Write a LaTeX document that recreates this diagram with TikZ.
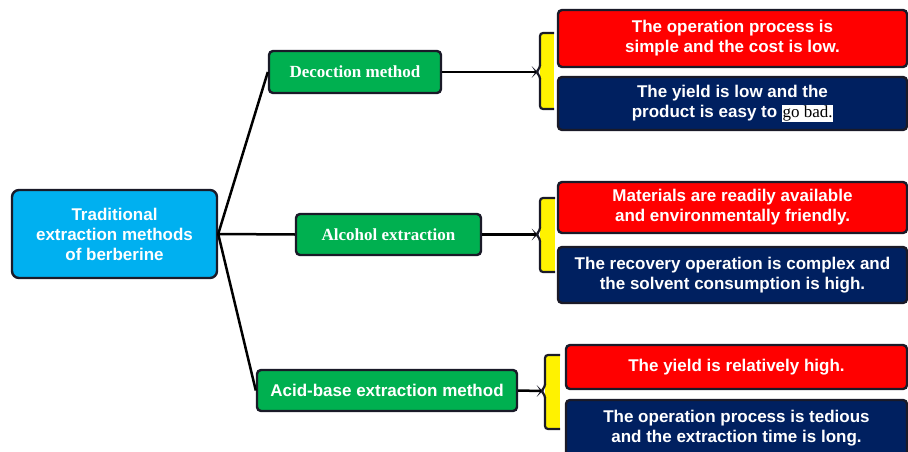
\documentclass[tikz,border=0pt]{standalone}
\usepackage{fontspec}
\setmainfont{Liberation Sans}
\newfontfamily\timesfont{Liberation Serif}
\usetikzlibrary{positioning}
\definecolor{boxred}{HTML}{FF0000}
\definecolor{boxnavy}{HTML}{002060}
\definecolor{boxgreen}{HTML}{00B050}
\definecolor{boxcyan}{HTML}{00B0F0}
\definecolor{edgeblk}{HTML}{1A1A28}
\setlength{\fboxsep}{0.6pt}

\begin{document}
\begin{tikzpicture}[x=1pt, y=-1pt,
box/.style={rectangle, rounded corners=4pt, draw=edgeblk, line width=2.4pt,
      text=white, align=center, inner sep=0pt,
      font=\fontsize{17}{20}\selectfont\bfseries},
root/.style={box, fill=boxcyan, rounded corners=7pt},
method/.style={box, fill=boxgreen},
serifbold/.style={font=\timesfont\fontsize{17}{20}\selectfont\bfseries},
pro/.style={box, fill=boxred},
con/.style={box, fill=boxnavy},
link/.style={line width=2.5pt, draw=black},
brace/.style={line width=2.2pt, draw=edgeblk, rounded corners=3pt}]
 \useasboundingbox (0,0) rectangle (908,452);

 \node[root, minimum width=205pt, minimum height=88pt] (root) at (114.5,234) {Traditional\\extraction methods\\of berberine};
 \node[method, serifbold, minimum width=172pt, minimum height=42pt] (dec) at (355,72) {Decoction method};
 \node[method, serifbold, minimum width=185pt, minimum height=41pt] (alc) at (388.5,234.5) {Alcohol extraction};
 \node[method, minimum width=260pt, minimum height=41pt] (acid) at (387,390.5) {Acid-base extraction method};

 \node[pro, minimum width=349pt, minimum height=57pt] (pro1) at (732.5,38.5) {The operation process is\\simple and the cost is low.};
 \node[con, minimum width=349pt, minimum height=53pt] (con1) at (732.5,103.5) {The yield is low and the\\product is easy to \colorbox{white}{\color{black}\timesfont\mdseries go bad.}};
 \node[pro, minimum width=349pt, minimum height=51pt] (pro2) at (732.5,207.5) {Materials are readily available\\and environmentally friendly.};
 \node[con, minimum width=349pt, minimum height=56pt] (con2) at (732.5,275) {The recovery operation is complex and\\the solvent consumption is high.};
 \node[pro, minimum width=341pt, minimum height=44pt] (pro3) at (736.5,367) {The yield is relatively high.};
 \node[con, minimum width=341pt, minimum height=56pt] (con3) at (736.5,428) {The operation process is tedious\\and the extraction time is long.};

 % yellow braces
 \coordinate (b1) at (536,72);
 \coordinate (b2) at (536,234.5);
 \coordinate (b3) at (541,391);
 \fill[yellow] (540,33) rectangle (554,109);
 \draw[brace] (554,33) -- (540,33) -- (540,68) -- (b1) -- (540,76) -- (540,109) -- (554,109);
 \fill[yellow] (540,198) rectangle (555,272);
 \draw[brace] (555,198) -- (540,198) -- (540,230.5) -- (b2) -- (540,238.5) -- (540,272) -- (555,272);
 \fill[yellow] (545,355) rectangle (560,429);
 \draw[brace] (560,355) -- (545,355) -- (545,387) -- (b3) -- (545,395) -- (545,429) -- (560,429);

 \draw[link] (root.east) -- (dec.west);
 \draw[link] (root.east) -- (alc.west);
 \draw[link] (root.east) -- (acid.west);
 \draw[link] (dec.east) -- (b1);
 \draw[link] (alc.east) -- (b2);
 \draw[link] (acid.east) -- (b3);

\end{tikzpicture}
\end{document}
